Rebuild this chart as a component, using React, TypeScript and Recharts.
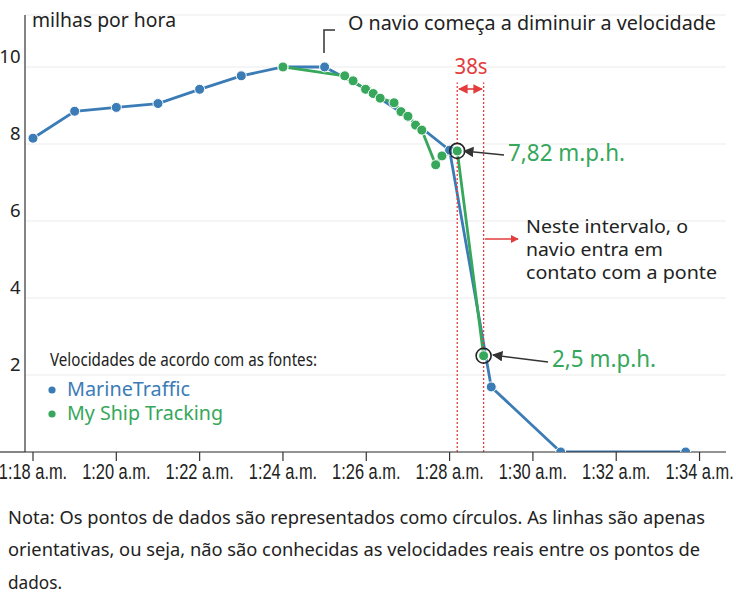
import React from 'react';
import {
  LineChart,
  Line,
  XAxis,
  YAxis,
  CartesianGrid,
  ReferenceLine,
  ReferenceDot,
} from 'recharts';

const BLUE = '#3b7cb6';
const GREEN = '#36a75b';
const RED = '#e23c3c';
const INK = '#222222';
const FONT = "'Noto Sans', 'Open Sans', sans-serif";
const NARROW = "'Liberation Sans', Arial, sans-serif";

// x ticks (minutes after 1:00 a.m.) and their labels
const xTicks = [18, 20, 22, 24, 26, 28, 30, 32, 34];
const xTickLabels = [
  '1:18 a.m.',
  '1:20 a.m.',
  '1:22 a.m.',
  '1:24 a.m.',
  '1:26 a.m.',
  '1:28 a.m.',
  '1:30 a.m.',
  '1:32 a.m.',
  '1:34 a.m.',
];
const yTicks = [2, 4, 6, 8, 10];

// MarineTraffic
const marineTrafficTimes = [
  '1:18:00', '1:19:00', '1:20:00', '1:21:00', '1:22:00', '1:23:00', '1:24:00',
  '1:25:00', '1:26:00', '1:27:00', '1:28:00', '1:29:00', '1:30:40', '1:33:40',
];
const marineTrafficSpeeds = [
  8.15, 8.85, 8.95, 9.05, 9.42, 9.77, 10.0, 10.0, 9.42, 8.7, 7.84, 1.69, 0, 0,
];

// My Ship Tracking
const myShipTrackingTimes = [
  '1:24:00', '1:25:29', '1:25:41', '1:25:59', '1:26:10', '1:26:20', '1:26:40',
  '1:26:50', '1:27:00', '1:27:11', '1:27:20', '1:27:40', '1:27:49', '1:28:11',
  '1:28:49',
];
const myShipTrackingSpeeds = [
  10.0, 9.77, 9.64, 9.42, 9.31, 9.19, 9.07, 8.84, 8.72, 8.49, 8.36, 7.46, 7.69,
  7.82, 2.5,
];

const toMinutes = (s: string) => {
  const [h, m, sec] = s.split(':').map(Number);
  return (h - 1) * 60 + m + sec / 60;
};

const blueData = marineTrafficTimes.map((t, i) => ({ t: toMinutes(t), v: marineTrafficSpeeds[i] }));
const greenData = myShipTrackingTimes.map((t, i) => ({ t: toMinutes(t), v: myShipTrackingSpeeds[i] }));

// the two highlighted readings (38 s apart)
const hiA = greenData[greenData.length - 2];
const hiB = greenData[greenData.length - 1];
const redLineTop = 9.6;

const XTick = (props: any) => {
  const { x, y, index } = props;
  return (
    <g transform={`translate(${x},${y + 16}) scale(1,1.4)`}>
      <text x={0} y={0} textAnchor="middle" fontFamily={NARROW} fontSize={16.4} fill={INK}>
        {xTickLabels[index]}
      </text>
    </g>
  );
};

const YTick = (props: any) => {
  const { x, y, payload } = props;
  return (
    <text x={x} y={y} dy={-3.5} textAnchor="end" fontFamily={FONT} fontSize={18.5} fill={INK}>
      {payload.value}
    </text>
  );
};

const T = (p: any) => {
  const { children, ...rest } = p;
  return (
    <text fontFamily={FONT} fill={INK} lengthAdjust="spacingAndGlyphs" {...rest}>
      {children}
    </text>
  );
};

export default function App() {
  return (
    <div
      style={{
        position: 'absolute',
        left: 0,
        top: 0,
        width: 736,
        height: 603,
        background: '#fff',
        overflow: 'hidden',
      }}
    >
      <LineChart
        width={736}
        height={500}
        margin={{ top: 15, right: 10, left: 0, bottom: 0 }}
      >
        <CartesianGrid vertical={false} stroke="#ebebeb" strokeWidth={1.2} />
        <XAxis
          type="number"
          dataKey="t"
          domain={[17.808, 34.635]}
          ticks={xTicks}
          allowDataOverflow
          height={48}
          axisLine={{ stroke: '#333', strokeWidth: 1.2 }}
          tickLine={{ stroke: '#333', strokeWidth: 1.2 }}
          tickSize={9}
          tick={<XTick />}
          interval={0}
        />
        <YAxis
          type="number"
          domain={[0, 11.35]}
          ticks={yTicks}
          allowDataOverflow
          width={25}
          axisLine={{ stroke: '#333', strokeWidth: 1.2 }}
          tickLine={false}
          tickSize={0}
          tickMargin={4.5}
          tick={<YTick />}
          interval={0}
        />
        <Line
          data={blueData}
          dataKey="v"
          type="linear"
          stroke={BLUE}
          strokeWidth={2.8}
          dot={{ r: 5, fill: BLUE, stroke: '#fff', strokeWidth: 1 }}
          activeDot={false}
          isAnimationActive={false}
        />
        <Line
          data={greenData}
          dataKey="v"
          type="linear"
          stroke={GREEN}
          strokeWidth={2.8}
          dot={{ r: 5, fill: GREEN, stroke: '#fff', strokeWidth: 1 }}
          activeDot={false}
          isAnimationActive={false}
        />
        <ReferenceLine
          segment={[{ x: hiA.t, y: 0 }, { x: hiA.t, y: redLineTop }]}
          stroke={RED}
          strokeWidth={1.3}
          strokeDasharray="2 2"
        />
        <ReferenceLine
          segment={[{ x: hiB.t, y: 0 }, { x: hiB.t, y: redLineTop }]}
          stroke={RED}
          strokeWidth={1.3}
          strokeDasharray="2 2"
        />
        <ReferenceDot x={hiA.t} y={hiA.v} r={7.5} fill="none" stroke={INK} strokeWidth={1.6} />
        <ReferenceDot x={hiB.t} y={hiB.v} r={7.5} fill="none" stroke={INK} strokeWidth={1.6} />
      </LineChart>

      <svg
        width={736}
        height={603}
        style={{ position: 'absolute', left: 0, top: 0, pointerEvents: 'none' }}
      >
        <defs>
          <marker id="arrK" viewBox="0 0 10 10" refX="9" refY="5" markerWidth="7" markerHeight="7" orient="auto-start-reverse">
            <path d="M0,0 L10,5 L0,10 z" fill="#333" />
          </marker>
          <marker id="arrR" viewBox="0 0 10 10" refX="9" refY="5" markerWidth="6" markerHeight="6" orient="auto-start-reverse">
            <path d="M0,0 L10,5 L0,10 z" fill={RED} />
          </marker>
        </defs>

        {/* left stub of the x axis */}
        <line x1={0} y1={452} x2={25} y2={452} stroke="#333" strokeWidth={1.2} />

        <T x={32} y={27} fontSize={19} textLength={144}>milhas por hora</T>

        {/* slowdown note */}
        <polyline points="324,53 324,30 335,30" fill="none" stroke="#333" strokeWidth={1.5} />
        <T x={348} y={30} fontSize={19.5} textLength={368}>O navio começa a diminuir a velocidade</T>

        {/* 38s */}
        <T x={471} y={74} fontSize={21} textAnchor="middle" fill={RED} textLength={33}>38s</T>
        <line x1={459} y1={89} x2={482} y2={89} stroke={RED} strokeWidth={1.6} markerStart="url(#arrR)" markerEnd="url(#arrR)" />

        {/* 7,82 */}
        <line x1={504} y1={155} x2={464} y2={151} stroke="#333" strokeWidth={1.5} markerEnd="url(#arrK)" />
        <T x={508} y={161} fontSize={23} fill={GREEN} textLength={117}>7,82 m.p.h.</T>

        {/* contact interval */}
        <line x1={485} y1={239} x2={518} y2={239} stroke={RED} strokeWidth={1.3} markerEnd="url(#arrR)" />
        <T x={526} y={233} fontSize={18.5} textLength={162}>Neste intervalo, o</T>
        <T x={526} y={256} fontSize={18.5} textLength={137}>navio entra em</T>
        <T x={526} y={279} fontSize={18.5} textLength={191}>contato com a ponte</T>

        {/* 2,5 */}
        <line x1={548} y1={362} x2={493} y2={355} stroke="#333" strokeWidth={1.5} markerEnd="url(#arrK)" />
        <T x={552} y={367} fontSize={23} fill={GREEN} textLength={104}>2,5 m.p.h.</T>

        {/* legend */}
        <T x={50} y={366} fontSize={18.5} textLength={267}>Velocidades de acordo com as fontes:</T>
        <circle cx={52} cy={390} r={3.6} fill={BLUE} />
        <T x={67} y={396} fontSize={19} fill={BLUE} textLength={123}>MarineTraffic</T>
        <circle cx={52} cy={414} r={3.6} fill={GREEN} />
        <T x={67} y={420} fontSize={19} fill={GREEN} textLength={156}>My Ship Tracking</T>

        {/* footnote */}
        <T x={8} y={524} fontSize={18.5} textLength={697}>Nota: Os pontos de dados são representados como círculos. As linhas são apenas</T>
        <T x={8} y={556} fontSize={18.5} textLength={692}>orientativas, ou seja, não são conhecidas as velocidades reais entre os pontos de</T>
        <T x={8} y={589} fontSize={18.5} textLength={54}>dados.</T>
      </svg>
    </div>
  );
}
